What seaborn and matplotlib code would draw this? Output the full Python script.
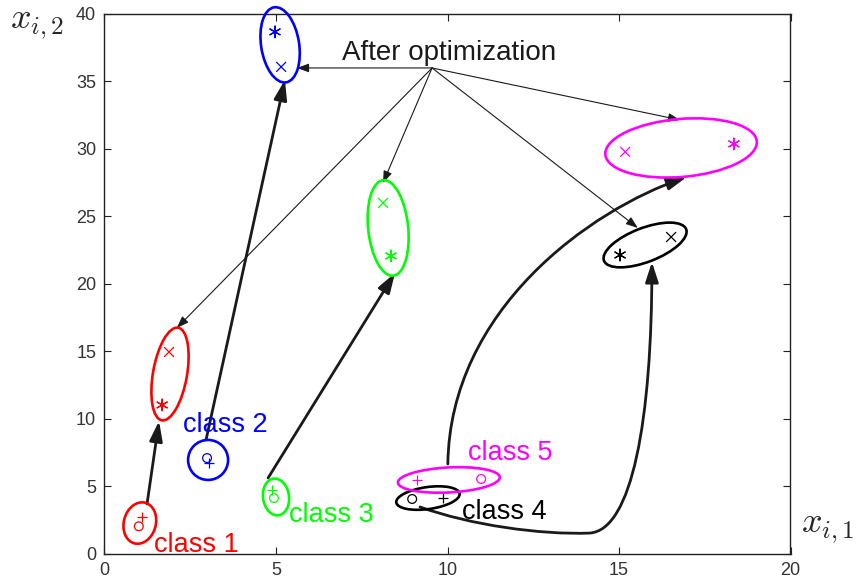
import numpy as np
import pandas as pd
import matplotlib
matplotlib.use("Agg")
import matplotlib.pyplot as plt
import seaborn as sns
from matplotlib.patches import Ellipse, FancyArrowPatch
from matplotlib.path import Path
from matplotlib.transforms import ScaledTranslation

# ---------------- data ----------------
classes = ["class 1", "class 2", "class 3", "class 4", "class 5"]
class_colors = ["#ff0000", "#0000ff", "#00ff00", "#000000", "#ff00ff"]

# before optimization: '+' and 'o' points
plus_x = [1.09, 3.05, 4.88, 9.87, 9.11]
plus_y = [2.74, 6.74, 4.74, 4.14, 5.48]
circ_x = [1.00, 2.99, 4.94, 8.97, 10.98]
circ_y = [2.05, 7.10, 4.14, 4.07, 5.55]
# after optimization: 'x' and '*' points
cross_x = [1.88, 5.15, 8.12, 16.52, 15.18]
cross_y = [14.95, 36.05, 25.98, 23.46, 29.76]
star_x = [1.68, 4.97, 8.35, 15.03, 18.35]
star_y = [11.03, 38.64, 22.06, 22.13, 30.35]

# ellipse centres (data) and sizes (px), angle (deg)
ell_before_cx = [1.03, 3.02, 5.00, 9.43, 10.04]
ell_before_cy = [2.29, 6.96, 4.22, 4.14, 5.48]
ell_before_w = [32, 40, 26, 64, 102]
ell_before_h = [42, 40, 37, 22, 25]
ell_before_a = [-15, 0, 8, 8, 3]
ell_after_cx = [1.91, 5.12, 8.27, 15.76, 16.81]
ell_after_cy = [13.32, 37.68, 24.13, 22.87, 30.05]
ell_after_w = [34, 38, 40, 88, 152]
ell_after_h = [94, 76, 96, 34, 58]
ell_after_a = [-10, 9, 6, 21, 5]

# straight thick arrows (start -> end), classes 1-3
thick_start = [(1.24, 3.70), (2.96, 8.44), (4.77, 5.63)]
thick_end = [(1.59, 9.84), (5.26, 35.09), (8.47, 20.80)]
# curved arrows (cubic bezier control points)
curve5 = [(10.01, 6.66), (10.07, 18.06), (14.15, 25.46), (16.98, 27.91)]
curve4 = [(9.20, 3.48), (10.66, 2.15), (12.70, 1.41), (14.15, 1.55),
          (15.38, 1.78), (15.96, 9.92), (15.96, 21.61)]

# "After optimization" thin arrows
after_origin = (9.55, 35.97)
after_targets = [(5.61, 35.97), (2.11, 16.73), (8.12, 27.46), (16.78, 32.12), (15.55, 24.13)]

label_pos_x = [1.44, 2.29, 5.38, 10.42, 10.60]
label_pos_y = [0.15, 9.03, 2.37, 2.59, 6.96]

xticks = [0, 5, 10, 15, 20]
yticks = [0, 5, 10, 15, 20, 25, 30, 35, 40]

# ---------------- figure ----------------
sns.set_theme(style="white")
plt.rcParams["font.family"] = ["Liberation Sans", "DejaVu Sans"]
plt.rcParams["mathtext.fontset"] = "cm"

fig = plt.figure(figsize=(8.62, 5.86), dpi=100)
ax = fig.add_axes([104.5 / 862, 1 - 554 / 586, (790.5 - 104.5) / 862, (554 - 13.5) / 586])
ax.set_xlim(0, 20)
ax.set_ylim(0, 40)

pal = dict(zip(classes, class_colors))
df_plus = pd.DataFrame({"x": plus_x, "y": plus_y, "cls": classes})
df_cross = pd.DataFrame({"x": cross_x, "y": cross_y, "cls": classes})
df_star = pd.DataFrame({"x": star_x, "y": star_y, "cls": classes})

sns.scatterplot(data=df_plus, x="x", y="y", hue="cls", palette=pal, marker="+",
                s=60, linewidth=0.9, legend=False, ax=ax, zorder=4)
sns.scatterplot(data=df_cross, x="x", y="y", hue="cls", palette=pal, marker="x",
                s=50, linewidth=0.9, legend=False, ax=ax, zorder=4)
sns.scatterplot(data=df_star, x="x", y="y", hue="cls", palette=pal, marker=(6, 2, 0),
                s=70, linewidth=0.9, legend=False, ax=ax, zorder=4)
for cx, cy, c in zip(circ_x, circ_y, class_colors):
    sns.scatterplot(x=[cx], y=[cy], marker="o", s=40, facecolor="none",
                    edgecolor=c, linewidth=0.9, legend=False, ax=ax, zorder=4)

# ellipses (sizes in pixels, centred in data coordinates)
def add_ellipse(cx, cy, w, h, a, color):
    tr = fig.dpi_scale_trans + ScaledTranslation(cx, cy, ax.transData)
    e = Ellipse((0, 0), w / 100, h / 100, angle=a, transform=tr,
                fill=False, edgecolor=color, lw=1.9, clip_on=False, zorder=3)
    fig.add_artist(e)

for i, c in enumerate(class_colors):
    add_ellipse(ell_before_cx[i], ell_before_cy[i], ell_before_w[i], ell_before_h[i], ell_before_a[i], c)
    add_ellipse(ell_after_cx[i], ell_after_cy[i], ell_after_w[i], ell_after_h[i], ell_after_a[i], c)

thick_style = "-|>,head_length=0.8,head_width=0.26"
for s0, s1 in zip(thick_start, thick_end):
    ax.annotate("", xy=s1, xytext=s0,
                arrowprops=dict(arrowstyle=thick_style, lw=2, color="k",
                                shrinkA=0, shrinkB=0, mutation_scale=15))

p5 = Path(curve5, [Path.MOVETO, Path.CURVE4, Path.CURVE4, Path.CURVE4])
p4 = Path(curve4, [Path.MOVETO] + [Path.CURVE4] * 6)
for p in (p5, p4):
    fa = FancyArrowPatch(path=p, arrowstyle=thick_style, mutation_scale=15,
                         lw=2, color="k", zorder=3)
    ax.add_patch(fa)

thin_style = "-|>,head_length=0.6,head_width=0.22"
for t in after_targets:
    ax.annotate("", xy=t, xytext=after_origin,
                arrowprops=dict(arrowstyle=thin_style, lw=0.8, color="k",
                                shrinkA=0, shrinkB=0, mutation_scale=12))

ax.text(6.92, 36.57, "After optimization", fontsize=20, color="k",
        ha="left", va="baseline")
for i, c in enumerate(classes):
    ax.text(label_pos_x[i], label_pos_y[i], c, fontsize=19.5, color=class_colors[i],
            ha="left", va="baseline", zorder=5)

ax.set_xticks(xticks)
ax.set_yticks(yticks)
ax.set_xticklabels([str(v) for v in xticks])
ax.set_yticklabels([str(v) for v in yticks])
ax.tick_params(direction="in", length=5, width=0.8, color="#222222",
               labelsize=13, labelcolor="#333333", top=True, right=True,
               bottom=True, left=True, pad=6)
for sp in ax.spines.values():
    sp.set_visible(True)
    sp.set_color("#222222")
    sp.set_linewidth(1.0)
ax.set_xlabel("")
ax.set_ylabel("")
ax.grid(False)

fig.text(10 / 862, 1 - 28 / 586, r"$x_{i,2}$", fontsize=26, ha="left", va="baseline")
fig.text(801 / 862, 1 - 532 / 586, r"$x_{i,1}$", fontsize=26, ha="left", va="baseline")

fig.savefig("out.png", dpi=100)
